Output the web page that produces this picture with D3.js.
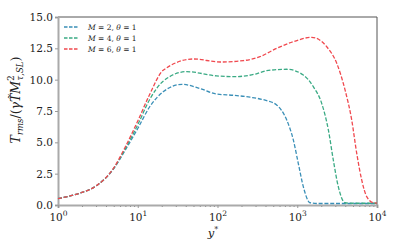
<!DOCTYPE html>
<html><head><meta charset="utf-8">
<script src="https://cdn.jsdelivr.net/npm/d3@7"></script>
<style>body{margin:0;background:#fff}svg{display:block}</style>
</head><body>
<svg id="c" width="399" height="249"></svg>
<script>
const seriesNames = ["M = 2, θ = 1", "M = 4, θ = 1", "M = 6, θ = 1"];
const seriesColors = ["#3a8fb7", "#3aaa84", "#f0484e"];
const yPlusM2 = [1,1.5,2,3,5,7,10,14,21,36,60,97,160,256,414,552,738,893,1030,1191,1445,1800,3000,10000];
const valM2   = [0.5,0.77,1.0,1.52,2.9,4.4,6.1,7.8,9.05,9.63,9.3,8.85,8.75,8.6,8.32,7.98,6.78,5.19,3.33,1.46,0.18,0.12,0.12,0.12];
const yPlusM4 = [1,1.5,2,3,5,7,10,14,21,41,97,158,300,414,738,1191,1590,2025,2455,2832,3272,3975,5000,10000];
const valM4   = [0.5,0.77,1.0,1.52,2.93,4.5,6.4,8.38,9.9,10.64,10.3,10.24,10.45,10.72,10.83,10.37,9.44,8.11,5.99,3.59,1.46,0.18,0.14,0.14];
const yPlusM6 = [1,1.5,2,3,5,7,10,14,21,50,108,211,341,552,893,1518,2340,3126,3975,4820,5570,6430,7430,9000,10000];
const valM6   = [0.5,0.77,1.0,1.52,2.96,4.65,6.7,8.78,10.77,11.65,11.41,11.52,11.84,12.5,13.03,13.38,12.63,11.31,9.18,6.78,4.12,2.0,0.67,0.18,0.15];
const yTicks = [0, 2.5, 5, 7.5, 10, 12.5, 15];
const xTickExps = [0, 1, 2, 3, 4];

const svg = d3.select("#c");
const x = d3.scaleLog().domain([1, 1e4]).range([58, 377]);
const y = d3.scaleLinear().domain([0, 15]).range([205, 17]);
const serif = "DejaVu Serif, serif";

svg.append("line").attr("x1",58).attr("x2",377).attr("y1",17).attr("y2",17).attr("stroke","#555").attr("stroke-width",1);
svg.append("line").attr("x1",377).attr("x2",377).attr("y1",17).attr("y2",205).attr("stroke","#555").attr("stroke-width",1);

const yAxis = svg.append("g").attr("transform","translate(58,0)")
  .call(d3.axisLeft(y).tickValues(yTicks).tickFormat(d3.format(".1f")).tickSize(3).tickPadding(2));
yAxis.select(".domain").attr("stroke","#aaa").attr("stroke-width",2);
yAxis.selectAll(".tick line").attr("stroke","#999");
yAxis.selectAll("text").attr("font-family",serif).attr("font-size",10.5).attr("fill","#222");

const minor = [];
for (let e=0;e<4;e++) for (let k=2;k<10;k++) minor.push(k*Math.pow(10,e));
const xMinor = svg.append("g").attr("transform","translate(0,205)")
  .call(d3.axisBottom(x).tickValues(minor).tickFormat("").tickSize(2));
xMinor.select(".domain").remove();
xMinor.selectAll(".tick line").attr("stroke","#777");
const xAxis = svg.append("g").attr("transform","translate(0,205)")
  .call(d3.axisBottom(x).tickValues(xTickExps.map(e=>Math.pow(10,e))).tickFormat("").tickSize(3));
xAxis.select(".domain").attr("stroke","#aaa").attr("stroke-width",2);
xAxis.selectAll(".tick line").attr("stroke","#999");
xAxis.selectAll(".tick").each(function(d,i){
  const t = d3.select(this).append("text").attr("y",16).attr("text-anchor","middle")
    .attr("font-family",serif).attr("font-size",10.5).attr("fill","#222");
  t.append("tspan").text("10");
  t.append("tspan").attr("dy",-5).attr("font-size",7.5).text(xTickExps[i]);
});

const line = d3.line().x(d=>x(d[0])).y(d=>y(d[1])).curve(d3.curveMonotoneX);
const data = [d3.zip(yPlusM2, valM2), d3.zip(yPlusM4, valM4), d3.zip(yPlusM6, valM6)];
data.forEach((pts,i)=>{
  svg.append("path").attr("d",line(pts)).attr("fill","none")
    .attr("stroke",seriesColors[i]).attr("stroke-width",1.3).attr("stroke-dasharray","4,1.8");
});

const lg = svg.append("g");
seriesNames.forEach((n,i)=>{
  const yy = 27 + i*11;
  lg.append("line").attr("x1",64).attr("x2",78).attr("y1",yy).attr("y2",yy)
    .attr("stroke",seriesColors[i]).attr("stroke-width",1.3).attr("stroke-dasharray","3.5,1.5");
  const parts = n.split(", ");
  const t = lg.append("text").attr("x",88).attr("y",yy+3).attr("font-family",serif).attr("font-size",7.5).attr("fill","#222");
  t.append("tspan").attr("font-style","italic").text("M");
  t.append("tspan").text(" = " + parts[0].split(" = ")[1] + ", ");
  t.append("tspan").attr("font-style","italic").text("θ");
  t.append("tspan").text(" = " + parts[1].split(" = ")[1]);
});

const xl = svg.append("text").attr("x",213).attr("y",237).attr("text-anchor","middle")
  .attr("font-family",serif).attr("font-size",11.5).attr("fill","#222");
xl.append("tspan").attr("font-style","italic").text("y");
xl.append("tspan").attr("dy",-5).attr("font-size",8).text("*");

const yl = svg.append("text").attr("transform","translate(20,100) rotate(-90)").attr("text-anchor","middle")
  .attr("font-family",serif).attr("font-size",12.5).attr("fill","#222");
yl.append("tspan").attr("font-style","italic").text("T");
yl.append("tspan").attr("dy",3).attr("font-size",8.5).attr("font-style","italic").text("rms");
yl.append("tspan").attr("dy",-3).text("/(");
yl.append("tspan").attr("font-style","italic").text("γ");
yl.append("tspan").attr("font-style","italic").text("T̃");
yl.append("tspan").attr("font-style","italic").text("M");
yl.append("tspan").attr("dy",-6).attr("font-size",8.5).text("2");
yl.append("tspan").attr("dx",-5).attr("dy",9).attr("font-size",8.5).attr("font-style","italic").text("τ,SL");
yl.append("tspan").attr("dy",-3).text(")");
</script>
</body></html>
